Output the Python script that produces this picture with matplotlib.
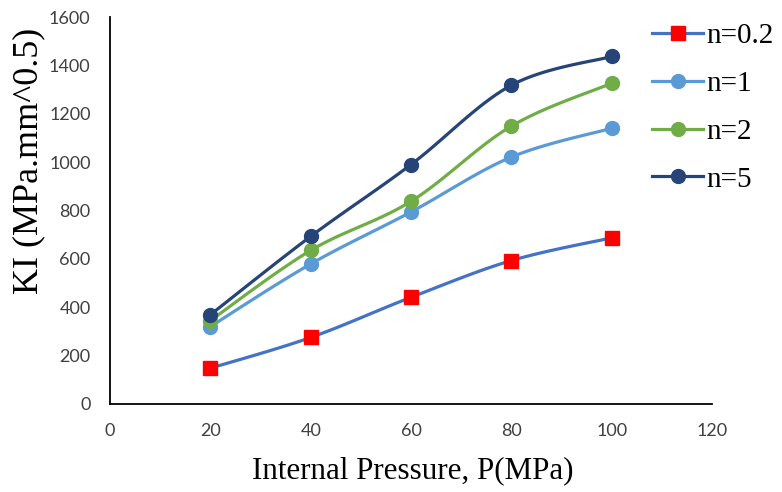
import numpy as np
import matplotlib
matplotlib.use("Agg")
import matplotlib.pyplot as plt

# data
pressure = [20, 40, 60, 80, 100]
ki_n02 = [148, 275, 441, 593, 687]
ki_n1 = [320, 579, 794, 1021, 1140]
ki_n2 = [345, 635, 838, 1149, 1326]
ki_n5 = [369, 693, 990, 1318, 1437]
labels = ["n=0.2", "n=1", "n=2", "n=5"]


def smooth(x, y, steps=30):
    # excel-style smoothed line: cubic bezier through the points
    p = np.column_stack([x, y]).astype(float)
    n = len(p)
    out = [p[0]]
    t = np.linspace(0, 1, steps)[1:, None]
    for i in range(n - 1):
        p0 = p[max(i - 1, 0)]
        p1 = p[i]
        p2 = p[i + 1]
        p3 = p[min(i + 2, n - 1)]
        c1 = p1 + (p2 - p0) / 6.0
        c2 = p2 - (p3 - p1) / 6.0
        seg = ((1 - t) ** 3) * p1 + 3 * ((1 - t) ** 2) * t * c1 \
            + 3 * (1 - t) * t ** 2 * c2 + t ** 3 * p2
        out.extend(seg)
    out = np.array(out)
    return out[:, 0], out[:, 1]


serif = "Liberation Serif"
tickfont = "Lato"

fig = plt.figure(figsize=(7.82, 4.92), dpi=100)
ax = fig.add_axes([0.1407, 0.1789, 0.7698, 0.7865])

series = [
    (ki_n02, "#4472C4", "s", "#FF0000", 10),
    (ki_n1, "#5B9BD5", "o", "#5B9BD5", 10),
    (ki_n2, "#70AD47", "o", "#70AD47", 10),
    (ki_n5, "#264478", "o", "#264478", 10),
]
handles = []
for (vals, lc, mk, mc, ms), lab in zip(series, labels):
    sx, sy = smooth(pressure, vals)
    ax.plot(sx, sy, color=lc, lw=2.3, solid_capstyle="round")
    ax.plot(pressure, vals, ls="none", marker=mk, ms=ms, color=mc,
            markeredgecolor=mc)
    h, = ax.plot([], [], color=lc, lw=2.3, marker=mk, ms=ms,
                 markerfacecolor=mc, markeredgecolor=mc, label=lab)
    handles.append(h)

ax.set_xlim(0, 120)
ax.set_ylim(0, 1600)
ax.set_xticks(range(0, 121, 20))
ax.set_yticks(range(0, 1601, 200))
for s in ["top", "right"]:
    ax.spines[s].set_visible(False)
for s in ["left", "bottom"]:
    ax.spines[s].set_linewidth(1.3)
    ax.spines[s].set_color("black")
ax.tick_params(length=0, pad=14, labelsize=13, labelcolor="#404040")
for lbl in ax.get_xticklabels() + ax.get_yticklabels():
    lbl.set_family(tickfont)

ax.set_xlabel("Internal Pressure, P(MPa)", fontsize=22.3, family=serif)
ax.set_ylabel("KI (MPa.mm^0.5)", fontsize=26, family=serif)
ax.xaxis.set_label_coords(0.503, -0.135)
ax.yaxis.set_label_coords(-0.107, 0.628)

fig.legend(handles=handles, loc="upper left", bbox_to_anchor=(0.819, 0.977),
           frameon=False, prop={"family": serif, "size": 21},
           handlelength=1.75, handletextpad=0.1, labelspacing=0.73,
           borderaxespad=0)

fig.savefig("out.png", dpi=100)
